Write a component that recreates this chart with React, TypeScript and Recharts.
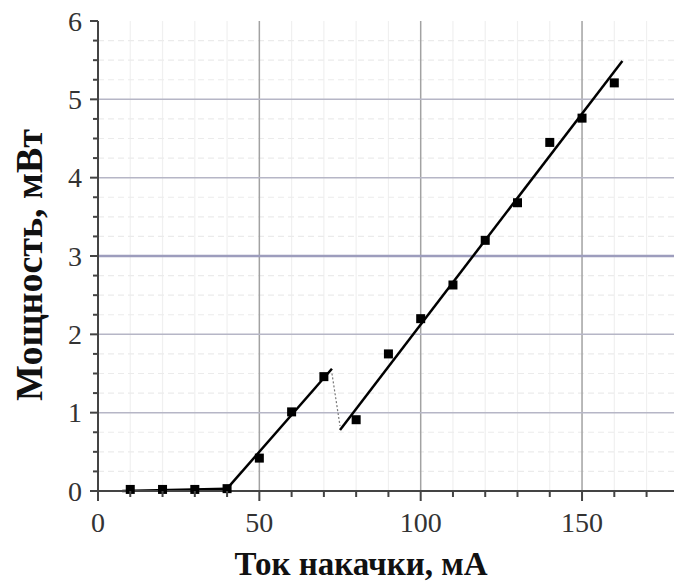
import { ComposedChart, XAxis, YAxis, Line, Scatter, ReferenceLine, Label } from 'recharts'

// Measured output power vs pump current
const currentMA = [10, 20, 30, 40, 50, 60, 70, 80, 90, 100, 110, 120, 130, 140, 150, 160]
const powerMW = [0.02, 0.02, 0.02, 0.03, 0.42, 1.01, 1.46, 0.91, 1.75, 2.2, 2.63, 3.2, 3.68, 4.45, 4.76, 5.21]

// Linear fits: below threshold, first lasing branch, second branch
const fitFlat = [{ x: 7.5, y: 0.0 }, { x: 40, y: 0.03 }]
const fitLow = [{ x: 40, y: 0.03 }, { x: 72.5, y: 1.56 }]
const fitHigh = [{ x: 75, y: 0.78 }, { x: 162.5, y: 5.49 }]
// mode jump between the two branches
const jump = [{ x: 72.5, y: 1.5 }, { x: 75, y: 0.83 }]

const xTicks = [0, 10, 20, 30, 40, 50, 60, 70, 80, 90, 100, 110, 120, 130, 140, 150, 160, 170]
const yTicks = [0, 0.25, 0.5, 0.75, 1, 1.25, 1.5, 1.75, 2, 2.25, 2.5, 2.75, 3, 3.25, 3.5, 3.75, 4, 4.25, 4.5, 4.75, 5, 5.25, 5.5, 5.75, 6]
const xMajorGrid = [50, 100, 150]
const yMajorGrid = [1, 2, 4, 5]

const points = currentMA.map((x, i) => ({ x, y: powerMW[i] }))
const xMinorGrid = xTicks.filter((v) => v > 0 && v % 50 !== 0)
const yMinorGrid = yTicks.filter((v) => v > 0 && v < 6 && !Number.isInteger(v))

const serif = { fontFamily: "'Liberation Serif', 'Times New Roman', serif" }

const XTick = ({ x, y, payload }: any) => {
    const major = payload.value % 50 === 0
    return (
        <g>
            <line x1={x} x2={x} y1={y} y2={y + (major ? 10 : 6)} stroke="#444" strokeWidth={2} />
            {major && (
                <text x={x} y={y + 41} textAnchor="middle" fontSize={28} fill="#333" style={serif}>
                    {payload.value}
                </text>
            )}
        </g>
    )
}

const YTick = ({ x, y, payload }: any) => {
    const major = Number.isInteger(payload.value)
    return (
        <g>
            <line x1={x - (major ? 8 : 5)} x2={x} y1={y} y2={y} stroke="#444" strokeWidth={2} />
            {major && (
                <text x={x - 16} y={y + 9.5} textAnchor="end" fontSize={28} fill="#333" style={serif}>
                    {payload.value}
                </text>
            )}
        </g>
    )
}

const XTitle = ({ viewBox }: any) => (
    <text x={viewBox.x + 263} y={viewBox.y + 84} textAnchor="middle" fontSize={33} fontWeight="bold"
        fill="#111" style={serif}>
        Ток накачки, мА
    </text>
)

const YTitle = ({ viewBox }: any) => {
    const cx = viewBox.x + 42
    const cy = viewBox.y + 244
    return (
        <text x={cx} y={cy} transform={`rotate(-90 ${cx} ${cy})`} textAnchor="middle"
            fontSize={38} fontWeight="bold" fill="#111" style={serif}>
            Мощность, мВт
        </text>
    )
}

const SquareDot = ({ cx, cy }: any) => <rect x={cx - 4.5} y={cy - 4.5} width={9} height={9} fill="#000" />

export default function App() {
    return (
        <div style={{ position: 'absolute', left: 0, top: 0, width: 674, height: 585, background: '#fff' }}>
            <ComposedChart width={674} height={585} margin={{ top: 21, right: 0, bottom: 0, left: 0 }}>
                <XAxis type="number" dataKey="x" domain={[0, 178.5]} ticks={xTicks} interval={0} allowDataOverflow
                    height={94} tickSize={0} tickMargin={0} tickLine={false} tick={<XTick />}
                    axisLine={{ stroke: '#444', strokeWidth: 2 }}>
                    <Label content={<XTitle />} />
                </XAxis>
                <YAxis type="number" dataKey="y" domain={[0, 6]} ticks={yTicks} interval={0}
                    width={98} tickSize={0} tickMargin={0} tickLine={false} tick={<YTick />}
                    axisLine={{ stroke: '#444', strokeWidth: 2 }}>
                    <Label content={<YTitle />} />
                </YAxis>

                {xMinorGrid.map((v) => (
                    <ReferenceLine key={'xm' + v} x={v} stroke="#f0f0f0" strokeWidth={1.2} />
                ))}
                {yMinorGrid.map((v) => (
                    <ReferenceLine key={'ym' + v} y={v} stroke="#ebebeb" strokeWidth={1.2} strokeDasharray="6 4" />
                ))}
                {xMajorGrid.map((v) => (
                    <ReferenceLine key={'xM' + v} x={v} stroke="#a2a2a2" strokeWidth={1.5} />
                ))}
                {yMajorGrid.map((v) => (
                    <ReferenceLine key={'yM' + v} y={v} stroke="#b6b6c6" strokeWidth={1.5} />
                ))}
                <ReferenceLine y={3} stroke="#9d9dbd" strokeWidth={2.5} />

                <Line data={fitFlat} dataKey="y" stroke="#000" strokeWidth={2.5} dot={false} isAnimationActive={false} />
                <Line data={fitLow} dataKey="y" stroke="#000" strokeWidth={2.5} dot={false} isAnimationActive={false} />
                <Line data={fitHigh} dataKey="y" stroke="#000" strokeWidth={2.5} dot={false} isAnimationActive={false} />
                <Line data={jump} dataKey="y" stroke="#777" strokeWidth={1.2} strokeDasharray="2 2" dot={false}
                    isAnimationActive={false} />
                <Scatter data={points} dataKey="y" shape={<SquareDot />} isAnimationActive={false} />
            </ComposedChart>
        </div>
    )
}
